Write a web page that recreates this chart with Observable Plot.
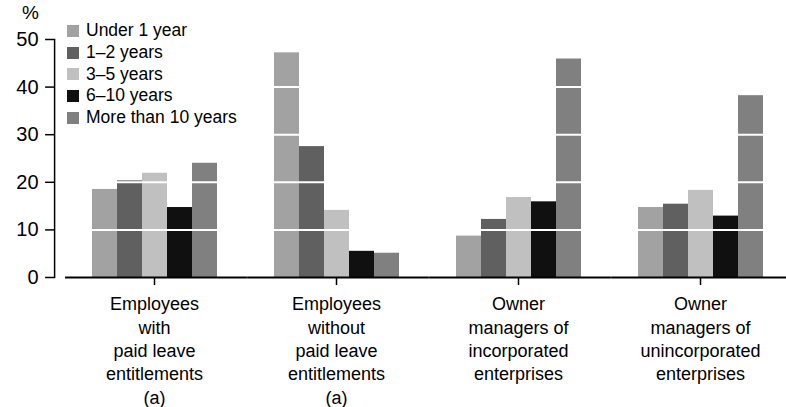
<!DOCTYPE html>
<html>
<head>
<meta charset="utf-8">
<script src="https://cdn.jsdelivr.net/npm/d3@7"></script>
<script src="https://cdn.jsdelivr.net/npm/@observablehq/plot@0.6"></script>
<style>
  html, body { margin: 0; padding: 0; background: #fff; }
  #wrap { position: relative; width: 786px; height: 407px; font-family: "Liberation Sans", Arial, sans-serif; }
  #wrap svg { position: absolute; left: 0; top: 0; }
  #pct { position: absolute; left: 22px; top: 2px; font-size: 19px; color: #000; }
  #legend { position: absolute; left: 67px; top: 20px; }
  .row { display: flex; align-items: center; height: 21.7px; font-size: 17.5px; color: #000; white-space: nowrap; }
  .sw { width: 12px; height: 12px; margin-right: 7px; }
</style>
</head>
<body>
<div id="wrap">
  <div id="pct">%</div>
  <div id="legend"></div>
</div>
<script>
const groups = [
  "Employees\nwith\npaid leave\nentitlements\n(a)",
  "Employees\nwithout\npaid leave\nentitlements\n(a)",
  "Owner\nmanagers of\nincorporated\nenterprises",
  "Owner\nmanagers of\nunincorporated\nenterprises"
];
const series = ["Under 1 year", "1–2 years", "3–5 years", "6–10 years", "More than 10 years"];
const colors = ["#a2a2a2", "#606060", "#c0c0c0", "#101010", "#808080"];
const under1 = [18.5, 47.2, 8.7, 14.7];
const y1to2 = [20.3, 27.5, 12.2, 15.4];
const y3to5 = [21.9, 14.1, 16.8, 18.3];
const y6to10 = [14.7, 5.5, 15.9, 12.9];
const over10 = [24.0, 5.1, 45.9, 38.2];
const yTicks = [0, 10, 20, 30, 40, 50];

const values = [under1, y1to2, y3to5, y6to10, over10];
const data = [];
groups.forEach((g, i) => series.forEach((s, j) => data.push({group: g, series: s, value: values[j][i]})));

const font = '"Liberation Sans", Arial, sans-serif';
const chart = Plot.plot({
  width: 786,
  height: 407,
  marginTop: 39,
  marginBottom: 130,
  marginLeft: 64,
  marginRight: 0,
  style: {fontFamily: font, background: "transparent", overflow: "visible"},
  fx: {domain: groups, range: [62, 792.7], paddingInner: 0.305, paddingOuter: 0.1525, label: null},
  x: {domain: series, padding: 0, axis: null},
  y: {domain: [0, 50], ticks: yTicks, label: null},
  color: {domain: series, range: colors},
  marks: [
    Plot.barY(data, {fx: "group", x: "series", y: "value", fill: "series"}),
    Plot.ruleY([10, 20, 30, 40], {stroke: "#fff", strokeWidth: 2}),
    Plot.ruleY([0], {stroke: "#000", strokeWidth: 2, insetLeft: -25.9, insetRight: -29.9}),
    Plot.frame({anchor: "left", facetAnchor: "left", dx: -36.9, stroke: "#000", strokeWidth: 1.5}),
    Plot.axisY({ticks: yTicks, facetAnchor: "left", dx: -36.9, tickSize: 9, tickPadding: 7, fontSize: 20, strokeWidth: 1.5, label: null, fill: "#000"}),
    Plot.axisFx({anchor: "bottom", tickSize: 8, tickPadding: 8, fontSize: 18, lineHeight: 1.3, strokeWidth: 1.5, label: null, fill: "#000"})
  ]
});
document.getElementById("wrap").prepend(chart);

const legend = document.getElementById("legend");
series.forEach((s, j) => {
  const row = document.createElement("div");
  row.className = "row";
  const sw = document.createElement("span");
  sw.className = "sw";
  sw.style.background = colors[j];
  const t = document.createElement("span");
  t.textContent = s;
  row.appendChild(sw);
  row.appendChild(t);
  legend.appendChild(row);
});
</script>
</body>
</html>
